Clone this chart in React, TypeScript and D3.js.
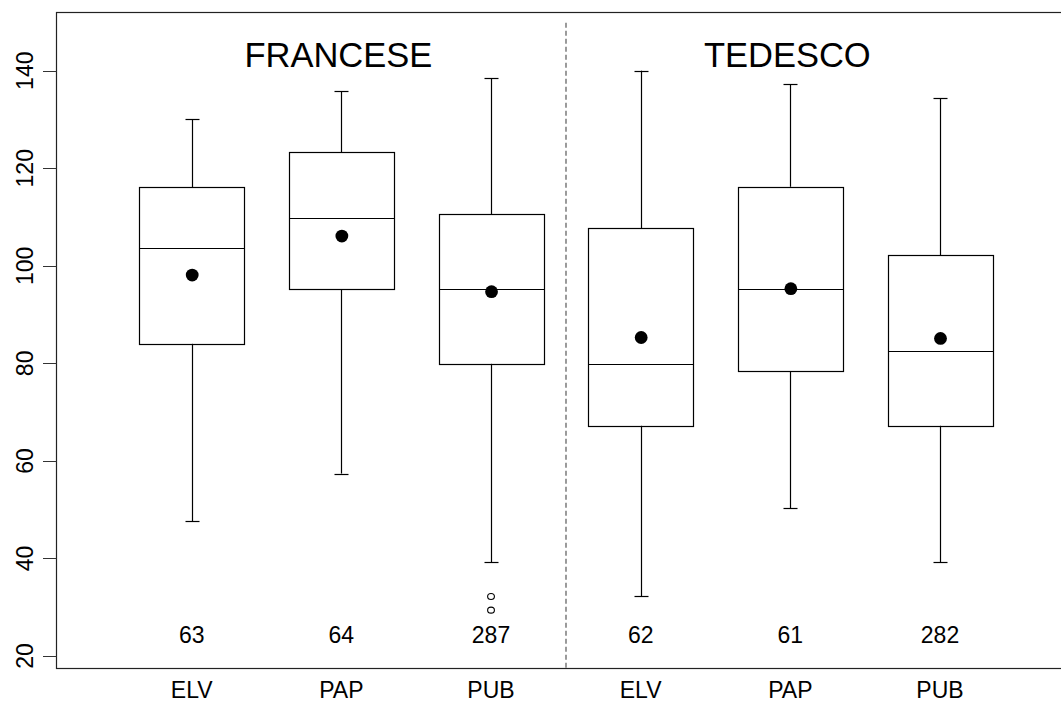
import React from "react";
import * as d3 from "d3";

// Groups and categories
const groups = ["FRANCESE", "TEDESCO"];
const categories = ["ELV", "PAP", "PUB", "ELV", "PAP", "PUB"];

// Box statistics per box (left to right)
const whiskerLow = [47.6, 57.4, 39.2, 32.2, 50.3, 39.2];
const q1 = [84.0, 95.2, 79.9, 67.2, 78.4, 67.2];
const median = [103.6, 109.9, 95.2, 79.8, 95.2, 82.6];
const q3 = [116.1, 123.3, 110.6, 107.7, 116.2, 102.2];
const whiskerHigh = [130.1, 135.8, 138.5, 140.0, 137.2, 134.4];
const means = [98.1, 106.1, 94.7, 85.3, 95.3, 85.1];
const counts = [63, 64, 287, 62, 61, 282];
// Outliers: [box index, value]
const outliers: [number, number][] = [
  [2, 32.2],
  [2, 29.4],
];

const yTicks = [20, 40, 60, 80, 100, 120, 140];

const W = 1061;
const H = 704;
const FONT = "'Liberation Sans', Arial, Helvetica, sans-serif";

export default function App() {
  const plotLeft = 56.5;
  const plotTop = 12.5;
  const plotBottom = 668.5;
  const plotRight = 1090;

  const y = d3.scaleLinear().domain([20, 140]).range([656, 70.7]);
  const x = d3.scaleLinear().domain([0, 5]).range([191.7, 940]);
  const boxHalf = 52.5;
  const capHalf = 7;
  const sepX = (x(2) + x(3)) / 2;

  const r = (v: number) => Math.round(v) + 0.5;

  return (
    <svg
      width={W}
      height={H}
      style={{ position: "absolute", left: 0, top: 0, display: "block", background: "#fff" }}
      fontFamily={FONT}
    >
      <rect x={0} y={0} width={W} height={H} fill="#fff" />

      {/* Plot frame */}
      <rect
        x={plotLeft}
        y={plotTop}
        width={plotRight - plotLeft}
        height={plotBottom - plotTop}
        fill="none"
        stroke="#222"
        strokeWidth={1.2}
      />

      {/* Y axis ticks and labels */}
      {yTicks.map((t) => (
        <g key={t}>
          <line x1={43} x2={plotLeft} y1={r(y(t))} y2={r(y(t))} stroke="#333" strokeWidth={1} />
          <text
            transform={`translate(33,${y(t)}) rotate(-90)`}
            textAnchor="middle"
            fontSize={23}
            fill="#000"
          >
            {t}
          </text>
        </g>
      ))}

      {/* Group separator */}
      <line
        x1={r(sepX) - 0.5}
        x2={r(sepX) - 0.5}
        y1={22.7}
        y2={plotBottom}
        stroke="#666"
        strokeWidth={1.3}
        strokeDasharray="5,3"
      />

      {/* Group titles */}
      {groups.map((g, i) => (
        <text
          key={g}
          x={x(1 + i * 3) - 3}
          y={66.7}
          textAnchor="middle"
          fontSize={34.5}
          fill="#000"
        >
          {g}
        </text>
      ))}

      {/* Boxes */}
      {categories.map((c, i) => {
        const cx = x(i);
        const xl = r(cx - boxHalf);
        const xr = r(cx + boxHalf);
        const xc = r(cx);
        return (
          <g key={i} stroke="#000" strokeWidth={1.2} fill="none">
            <line x1={xc} x2={xc} y1={y(whiskerHigh[i])} y2={y(q3[i])} />
            <line x1={xc} x2={xc} y1={y(q1[i])} y2={y(whiskerLow[i])} />
            <line x1={xc - capHalf} x2={xc + capHalf} y1={r(y(whiskerHigh[i]))} y2={r(y(whiskerHigh[i]))} />
            <line x1={xc - capHalf} x2={xc + capHalf} y1={r(y(whiskerLow[i]))} y2={r(y(whiskerLow[i]))} />
            <rect x={xl} y={r(y(q3[i]))} width={xr - xl} height={r(y(q1[i])) - r(y(q3[i]))} />
            <line x1={xl} x2={xr} y1={r(y(median[i]))} y2={r(y(median[i]))} />
            <circle cx={cx + 0.5} cy={y(means[i])} r={6.4} fill="#000" stroke="none" />
            <text
              x={cx}
              y={643}
              textAnchor="middle"
              fontSize={23}
              fill="#000"
              stroke="none"
            >
              {counts[i]}
            </text>
            <text
              x={cx}
              y={698}
              textAnchor="middle"
              fontSize={23}
              fill="#000"
              stroke="none"
            >
              {c}
            </text>
          </g>
        );
      })}

      {/* Outliers */}
      {outliers.map(([i, v], k) => (
        <ellipse
          key={k}
          cx={x(i)}
          cy={y(v)}
          rx={3.4}
          ry={3}
          fill="none"
          stroke="#000"
          strokeWidth={1.1}
        />
      ))}
    </svg>
  );
}
